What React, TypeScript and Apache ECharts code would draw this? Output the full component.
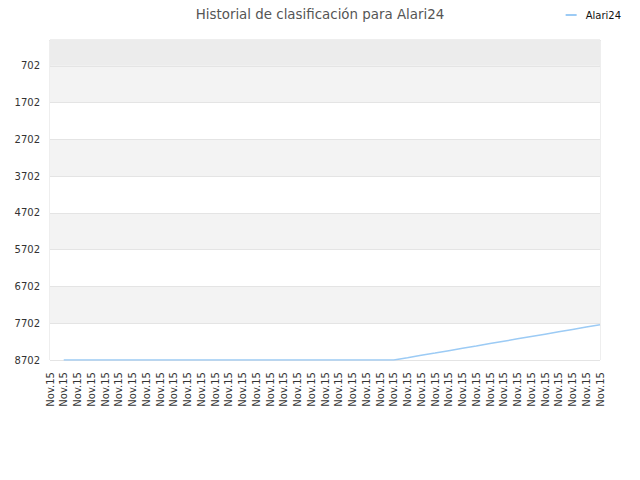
import * as echarts from "echarts";
import { useEffect, useRef } from "react";

const categories: string[] = Array(41).fill("Nov.15");

const rankValues: (number | null)[] = [
  null, 8702, 8702, 8702, 8702, 8702, 8702, 8702, 8702, 8702,
  8702, 8702, 8702, 8702, 8702, 8702, 8702, 8702, 8702, 8702,
  8702, 8702, 8702, 8702, 8702, 8702, 8640, 8575, 8512, 8448,
  8383, 8320, 8255, 8191, 8127, 8063, 7999, 7934, 7870, 7806,
  7742,
];

const yTicks: number[] = [702, 1702, 2702, 3702, 4702, 5702, 6702, 7702, 8702];

const App = () => {
  const chartRef = useRef<HTMLDivElement | null>(null);

  useEffect(() => {
    document.body.style.margin = "0";
    const chart = echarts.init(chartRef.current!, null, { renderer: "svg" });

    const option = {
      animation: false,
      textStyle: { fontFamily: "DejaVu Sans" },
      title: {
        text: "Historial de clasificación para Alari24",
        left: "center",
        top: 3,
        textStyle: { fontSize: 13.4, fontWeight: "normal", color: "#555" },
      },
      legend: {
        data: ["Alari24"],
        right: 14,
        top: 5,
        itemWidth: 11,
        itemHeight: 2,
        icon: "rect",
        textStyle: { fontSize: 10, color: "#111", padding: [0, 0, 0, 4] },
      },
      grid: {
        left: 50,
        right: 40,
        top: 40,
        bottom: 120,
        show: true,
        borderColor: "#ddd",
        borderWidth: 1,
      },
      xAxis: {
        type: "category",
        data: categories,
        boundaryGap: false,
        axisLine: { lineStyle: { color: "#ddd" } },
        axisTick: { show: false },
        axisLabel: {
          rotate: 90,
          interval: 0,
          fontSize: 10,
          color: "#333",
          margin: 12,
        },
      },
      yAxis: {
        type: "value",
        inverse: true,
        min: 0,
        max: 8702,
        axisLine: { show: false },
        axisTick: { show: false, customValues: yTicks },
        axisLabel: {
          customValues: yTicks,
          fontSize: 10,
          color: "#333",
          margin: 10,
          formatter: (v: number) => String(v),
        },
        splitLine: { show: true, lineStyle: { color: "#e4e4e4" } },
        splitArea: { show: true, areaStyle: { color: ["#f3f3f3", "#fff"] } },
      },
      series: [
        {
          name: "Alari24",
          type: "line",
          data: rankValues,
          showSymbol: false,
          symbol: "none",
          lineStyle: { color: "#9ccbf5", width: 1.5 },
          itemStyle: { color: "#9ccbf5" },
          markArea: {
            silent: true,
            itemStyle: { color: "#ececec" },
            data: [[{ yAxis: 0 }, { yAxis: yTicks[0] }]],
          },
        },
      ],
    };

    chart.setOption(option);
    return () => {
      chart.dispose();
    };
  }, []);

  return <div ref={chartRef} style={{ width: "640px", height: "480px" }} />;
};

export default App;
